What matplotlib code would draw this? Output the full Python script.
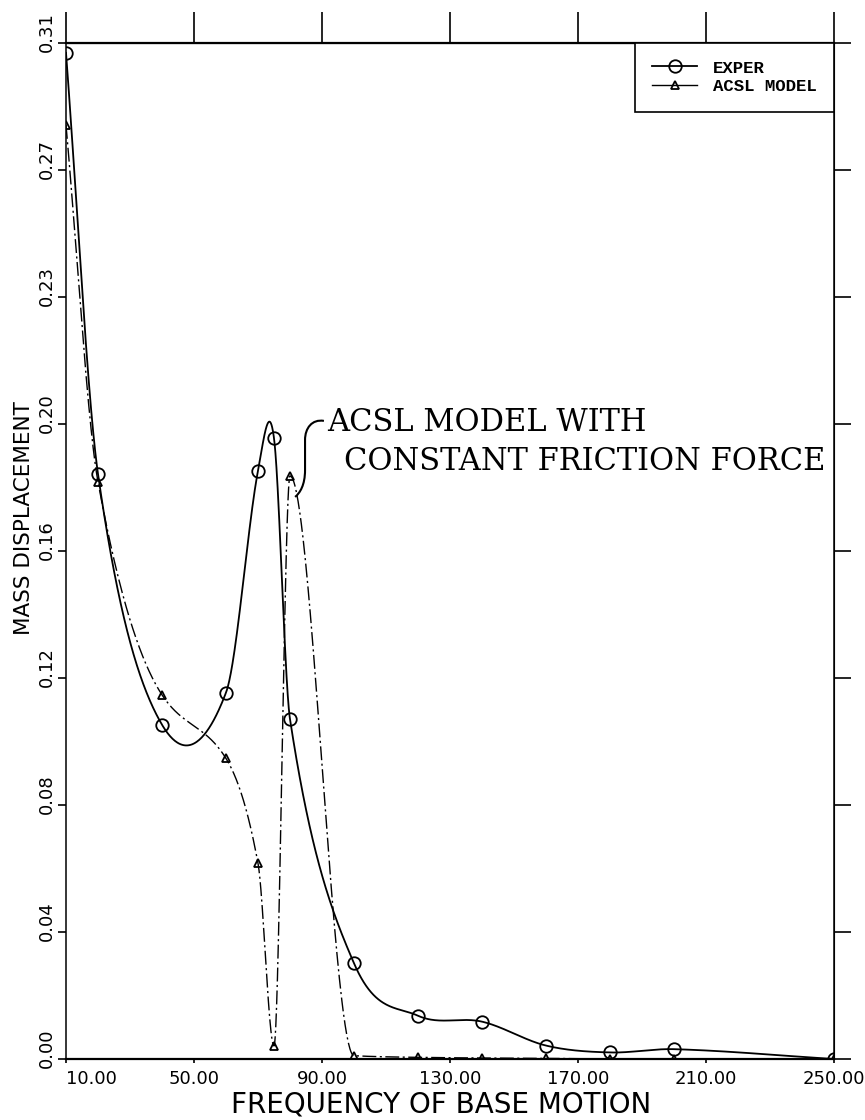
import numpy as np
import matplotlib.pyplot as plt
import matplotlib.transforms as mtransforms
from matplotlib.lines import Line2D
from matplotlib.path import Path
from matplotlib.patches import PathPatch

# values
freq = [10, 20, 40, 60, 70, 75, 80, 100, 120, 140, 160, 180, 200, 250]
exper = [0.307, 0.1785, 0.102, 0.1118, 0.1795, 0.1894, 0.1037, 0.0292,
         0.0132, 0.0114, 0.0041, 0.0020, 0.0030, 0.0]
acsl = [0.285, 0.1761, 0.1111, 0.0917, 0.0597, 0.0040, 0.1779, 0.0010,
        0.0005, 0.0003, 0.0002, 0.0, 0.0, 0.0]

xticks = [10, 50, 90, 130, 170, 210, 250]
xtick_labels = ['10.00', '50.00', '90.00', '130.00', '170.00', '210.00', '250.00']
ytick_labels = ['0.00', '0.04', '0.08', '0.12', '0.16', '0.20', '0.23', '0.27', '0.31']
ymax = 0.31


def cardinal_tangents(x, y):
    x = np.asarray(x, float)
    y = np.asarray(y, float)
    m = np.zeros_like(y)
    m[1:-1] = (y[2:] - y[:-2]) / (x[2:] - x[:-2])
    m[0] = (y[1] - y[0]) / (x[1] - x[0])
    m[-1] = (y[-1] - y[-2]) / (x[-1] - x[-2])
    return m


def pchip_tangents(x, y):
    x = np.asarray(x, float)
    y = np.asarray(y, float)
    h = np.diff(x)
    d = np.diff(y) / h
    m = np.zeros_like(y)
    for k in range(1, len(x) - 1):
        if d[k - 1] * d[k] <= 0:
            m[k] = 0.0
        else:
            w1 = 2 * h[k] + h[k - 1]
            w2 = h[k] + 2 * h[k - 1]
            m[k] = (w1 + w2) / (w1 / d[k - 1] + w2 / d[k])
    m[0] = d[0]
    m[-1] = d[-1]
    return m


def hermite(x, y, m, n=80):
    xs, ys = [], []
    t = np.linspace(0, 1, n)
    h00 = 2 * t**3 - 3 * t**2 + 1
    h10 = t**3 - 2 * t**2 + t
    h01 = -2 * t**3 + 3 * t**2
    h11 = t**3 - t**2
    for i in range(len(x) - 1):
        h = x[i + 1] - x[i]
        xs.append(x[i] + t * h)
        ys.append(h00 * y[i] + h10 * h * m[i] + h01 * y[i + 1] + h11 * h * m[i + 1])
    return np.concatenate(xs), np.concatenate(ys)


fig = plt.figure(figsize=(8.65, 11.2), dpi=100)
ax = fig.add_axes([66 / 865, 61 / 1120, 768 / 865, 1016 / 1120])

ex_x, ex_y = hermite(freq, exper, cardinal_tangents(freq, exper))
ac_x, ac_y = hermite(freq, acsl, pchip_tangents(freq, acsl))

ax.plot(ex_x, ex_y, color='black', lw=1.3, zorder=3)
ax.plot(ac_x, ac_y, color='black', lw=1.0, ls=(0, (10, 2.5, 1.5, 2.5)), zorder=3)
ax.plot(freq, exper, ls='none', marker='o', ms=9, mfc='none', mec='black', mew=1.3, zorder=4)
ax.plot(freq, acsl, ls='none', marker='^', ms=6, mfc='none', mec='black', mew=1.3, zorder=4)

ax.set_xlim(10, 250)
ax.set_ylim(0, ymax)

ax.set_xticks(xticks)
ax.set_xticklabels(xtick_labels, fontsize=13, family='DejaVu Sans')
ax.get_xticklabels()[0].set_ha('left')

# y tick labels sit a little above their ticks in the original, so place them by hand
yt = np.arange(len(ytick_labels)) * ymax / (len(ytick_labels) - 1)
ax.set_yticks(yt)
ax.set_yticklabels([])
lab_trans = mtransforms.blended_transform_factory(ax.transAxes, ax.transData) + \
    mtransforms.ScaledTranslation(-14 / 72, 8 / 72, fig.dpi_scale_trans)
for val, txt in zip(yt, ytick_labels):
    ax.text(0, val, txt, transform=lab_trans, rotation=90, ha='center', va='center',
            fontsize=13, family='DejaVu Sans', clip_on=False)

ax.tick_params(axis='y', left=True, right=False, direction='out', length=6, width=1.2)
ax.tick_params(axis='x', bottom=True, top=False, direction='out', length=3, width=1.2, pad=5)

for side, lw in [('left', 1.1), ('right', 1.1), ('top', 1.6), ('bottom', 1.6)]:
    ax.spines[side].set_linewidth(lw)

secx = ax.secondary_xaxis('top')
secx.set_xticks(xticks)
secx.set_xticklabels([])
secx.tick_params(direction='out', length=22, width=1.2)
secy = ax.secondary_yaxis('right')
secy.set_yticks(yt)
secy.set_yticklabels([])
secy.tick_params(direction='out', length=12, width=1.2)

fig.text(441 / 865, 1 - 1104 / 1120, 'FREQUENCY OF BASE MOTION', ha='center', va='center',
         fontsize=20, family='DejaVu Sans')
fig.text(24 / 865, 1 - 518 / 1120, 'MASS DISPLACEMENT', ha='center', va='center',
         rotation=90, fontsize=15.5, family='DejaVu Sans')

handles = [
    Line2D([], [], color='black', lw=1.3, marker='o', ms=9, mfc='none', mew=1.3),
    Line2D([], [], color='black', lw=1.0, marker='^', ms=6, mfc='none', mew=1.3),
]
leg = ax.legend(handles, ['EXPER', 'ACSL MODEL'], loc='upper right', bbox_to_anchor=(1, 1),
                borderaxespad=0, fancybox=False, edgecolor='black', framealpha=1,
                handlelength=2.6, handletextpad=0.9, labelspacing=0.2, borderpad=1.0,
                prop={'family': 'Liberation Mono', 'weight': 'bold', 'size': 12.5})
leg.get_frame().set_linewidth(1.2)

ax.text(91.5, 0.1942, 'ACSL MODEL WITH', fontsize=22, family='DejaVu Serif',
        ha='left', va='center')
ax.text(97.0, 0.1824, 'CONSTANT FRICTION FORCE', fontsize=22, family='DejaVu Serif',
        ha='left', va='center')

brace = Path([(90.6, 0.1947), (86.9, 0.1953), (84.7, 0.1925), (84.7, 0.1889),
              (84.7, 0.1797),
              (84.7, 0.1751), (83.1, 0.1727), (81.6, 0.1715)],
             [Path.MOVETO, Path.CURVE4, Path.CURVE4, Path.CURVE4,
              Path.LINETO,
              Path.CURVE4, Path.CURVE4, Path.CURVE4])
ax.add_patch(PathPatch(brace, fill=False, lw=1.5, color='black', zorder=5))

fig.savefig('out.png', dpi=100)
